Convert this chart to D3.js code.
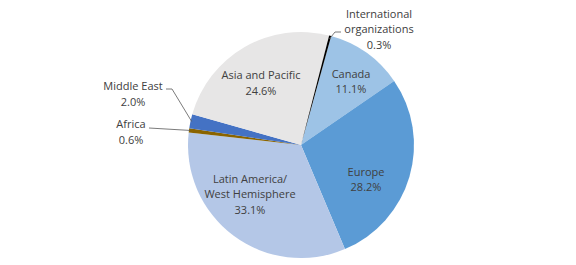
<!DOCTYPE html>
<html>
<head>
<meta charset="utf-8">
<script src="https://cdn.jsdelivr.net/npm/d3@7"></script>
<style>
  body { margin: 0; background: #fff; }
  text { font-family: "Open Sans", sans-serif; font-size: 11px; fill: #404040; }
</style>
</head>
<body>
<div id="chart"></div>
<script>
// slice order, clockwise from Canada
const regions = ["Canada", "Europe", "Latin America/\nWest Hemisphere", "Africa", "Middle East", "Asia and Pacific", "International\norganizations"];
const shares = [11.1, 28.2, 33.1, 0.6, 2.0, 24.6, 0.3];
const colors = ["#9dc3e6", "#5b9bd5", "#b4c7e7", "#8a6400", "#4472c4", "#e7e6e6", "#000000"];

const width = 576, height = 265;
const cx = 301, cy = 145, radius = 113;
const rotation = 15.5 * Math.PI / 180;

const svg = d3.select("#chart").append("svg")
    .attr("width", width)
    .attr("height", height);

const pie = d3.pie()
    .sort(null)
    .value(d => d)
    .startAngle(rotation)
    .endAngle(rotation + 2 * Math.PI);

const arcs = pie(shares);
const arc = d3.arc().innerRadius(0).outerRadius(radius);

const g = svg.append("g").attr("transform", `translate(${cx},${cy})`);

g.selectAll("path")
    .data(arcs)
    .enter().append("path")
    .attr("d", arc)
    .attr("fill", (d, i) => colors[i]);

// label block centres, in page pixels
const labelPos = [
    { x: 351, y: 81.5 },
    { x: 366, y: 179.5 },
    { x: 250, y: 194 },
    { x: 131, y: 132 },
    { x: 133, y: 94 },
    { x: 261, y: 83 },
    { x: 379, y: 29 }
];

const lineH = 15.5;
regions.forEach((name, i) => {
    let lines = name.split("\n").concat([shares[i].toFixed(1) + "%"]);
    let t = svg.append("text")
        .attr("text-anchor", "middle")
        .attr("transform", `translate(${labelPos[i].x},${labelPos[i].y})`);
    let y0 = -(lines.length - 1) * lineH / 2 + 4;
    lines.forEach((l, k) => {
        t.append("tspan")
            .attr("x", 0)
            .attr("y", y0 + k * lineH)
            .text(l);
    });
});

// leader lines for the small slices
const leader = d3.line();
const onEdge = (i, f) => {
    let a = arcs[i];
    let ang = (a.startAngle + a.endAngle) / 2;
    return [cx + Math.sin(ang) * radius * f, cy - Math.cos(ang) * radius * f];
};
const leaders = [
    [onEdge(3, 0.99), [149, 128]],
    [onEdge(4, 0.99), [172, 89], [166, 89]],
    [onEdge(6, 0.97), [335, 32], [341, 32]]
];
leaders.forEach(pts => {
    svg.append("path")
        .attr("d", leader(pts))
        .attr("fill", "none")
        .attr("stroke", "#595959")
        .attr("stroke-width", 0.8);
});
</script>
</body>
</html>
